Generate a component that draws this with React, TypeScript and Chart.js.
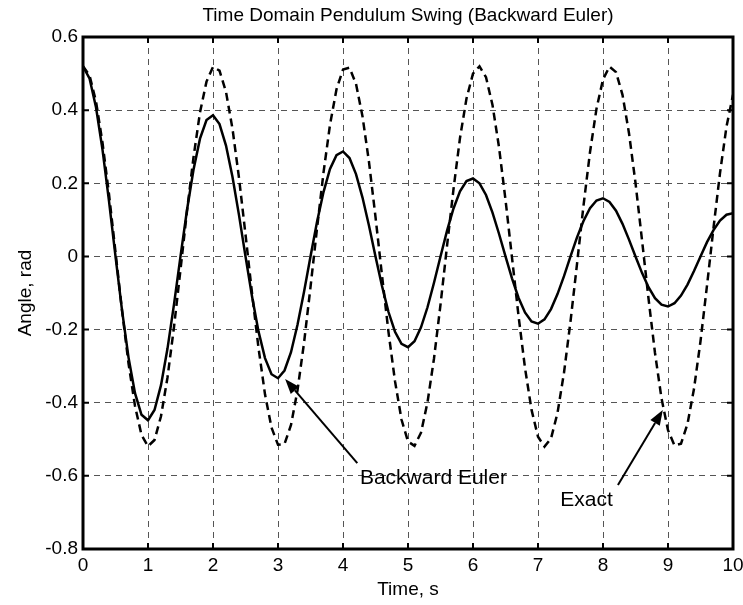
import React, { useEffect, useRef } from "react";
import { Chart, registerables } from "chart.js";

Chart.register(...registerables);

// ---- data ----
const timeS = [
  0, 0.1, 0.2, 0.3, 0.4, 0.5, 0.6, 0.7, 0.8, 0.9,
  1, 1.1, 1.2, 1.3, 1.4, 1.5, 1.6, 1.7, 1.8, 1.9,
  2, 2.1, 2.2, 2.3, 2.4, 2.5, 2.6, 2.7, 2.8, 2.9,
  3, 3.1, 3.2, 3.3, 3.4, 3.5, 3.6, 3.7, 3.8, 3.9,
  4, 4.1, 4.2, 4.3, 4.4, 4.5, 4.6, 4.7, 4.8, 4.9,
  5, 5.1, 5.2, 5.3, 5.4, 5.5, 5.6, 5.7, 5.8, 5.9,
  6, 6.1, 6.2, 6.3, 6.4, 6.5, 6.6, 6.7, 6.8, 6.9,
  7, 7.1, 7.2, 7.3, 7.4, 7.5, 7.6, 7.7, 7.8, 7.9,
  8, 8.1, 8.2, 8.3, 8.4, 8.5, 8.6, 8.7, 8.8, 8.9,
  9, 9.1, 9.2, 9.3, 9.4, 9.5, 9.6, 9.7, 9.8, 9.9,
  10,
];

const exactAngle = [
  0.520, 0.495, 0.424, 0.311, 0.170, 0.012, -0.147, -0.292, -0.409, -0.488,
  -0.519, -0.502, -0.437, -0.331, -0.193, -0.036, 0.124, 0.271, 0.394, 0.478,
  0.518, 0.508, 0.450, 0.349, 0.215, 0.060, -0.100, -0.250, -0.377, -0.468,
  -0.515, -0.513, -0.461, -0.366, -0.237, -0.084, 0.076, 0.229, 0.360, 0.457,
  0.511, 0.516, 0.472, 0.383, 0.258, 0.108, -0.052, -0.207, -0.341, -0.446,
  -0.506, -0.518, -0.482, -0.399, -0.279, -0.132, 0.028, 0.184, 0.324, 0.432,
  0.500, 0.520, 0.490, 0.414, 0.299, 0.155, -0.003, -0.162, -0.305, -0.419,
  -0.493, -0.520, -0.498, -0.428, -0.318, -0.178, -0.021, 0.139, 0.285, 0.404,
  0.484, 0.519, 0.504, 0.442, 0.337, 0.201, 0.045, -0.115, -0.264, -0.388,
  -0.475, -0.517, -0.512, -0.458, -0.362, -0.232, -0.080, 0.078, 0.228, 0.355,
  0.442,
];

const eulerAngle = [
  0.520, 0.487, 0.408, 0.292, 0.151, 0.000, -0.147, -0.276, -0.374, -0.433,
  -0.448, -0.420, -0.352, -0.252, -0.131, 0.000, 0.127, 0.237, 0.322, 0.373,
  0.386, 0.362, 0.303, 0.217, 0.113, 0.000, -0.109, -0.205, -0.278, -0.322,
  -0.333, -0.312, -0.262, -0.187, -0.097, 0.000, 0.094, 0.176, 0.239, 0.277,
  0.287, 0.269, 0.225, 0.161, 0.084, 0.000, -0.081, -0.152, -0.206, -0.239,
  -0.248, -0.232, -0.194, -0.139, -0.072, 0.000, 0.070, 0.131, 0.178, 0.206,
  0.213, 0.200, 0.168, 0.120, 0.062, 0.000, -0.060, -0.113, -0.153, -0.178,
  -0.184, -0.172, -0.144, -0.103, -0.054, 0.000, 0.052, 0.097, 0.132, 0.153,
  0.159, 0.149, 0.125, 0.089, 0.046, 0.000, -0.045, -0.084, -0.114, -0.132,
  -0.137, -0.128, -0.107, -0.077, -0.040, 0.000, 0.039, 0.072, 0.098, 0.114,
  0.118,
];

const xTickValues = [0, 1, 2, 3, 4, 5, 6, 7, 8, 9, 10];
const xTickLabels = ["0", "1", "2", "3", "4", "5", "6", "7", "8", "9", "10"];
const yTickValues = [-0.8, -0.6, -0.4, -0.2, 0, 0.2, 0.4, 0.6];
const yTickLabels = ["-0.8", "-0.6", "-0.4", "-0.2", "0", "0.2", "0.4", "0.6"];

const titleText = "Time Domain Pendulum Swing (Backward Euler)";
const xAxisLabel = "Time, s";
const yAxisLabel = "Angle, rad";

// callouts in data units: text anchor, arrow tail, arrow tip
const calloutLabels = ["Backward Euler", "Exact"];
const calloutTextAt = [[4.26, -0.606], [8.15, -0.666]];
const calloutAlign = ["left", "right"];
const calloutFrom = [[4.22, -0.565], [8.23, -0.625]];
const calloutTo = [[3.11, -0.335], [8.92, -0.42]];

const FONT = "'Liberation Sans', Arial, Helvetica, sans-serif";

const framePlugin = {
  id: "frameAndNotes",
  afterDraw(chart: any) {
    const { ctx, chartArea, scales } = chart;
    const { left, right, top, bottom } = chartArea;
    const x = scales.x;
    const y = scales.y;
    ctx.save();
    ctx.strokeStyle = "#000";
    ctx.fillStyle = "#000";
    ctx.lineCap = "butt";
    ctx.setLineDash([]);
    ctx.lineWidth = 2;
    const tl = 6;
    ctx.beginPath();
    xTickValues.forEach((v) => {
      const px = x.getPixelForValue(v);
      ctx.moveTo(px, bottom);
      ctx.lineTo(px, bottom - tl);
      ctx.moveTo(px, top);
      ctx.lineTo(px, top + tl);
    });
    yTickValues.forEach((v) => {
      const py = y.getPixelForValue(v);
      ctx.moveTo(left, py);
      ctx.lineTo(left + tl, py);
      ctx.moveTo(right, py);
      ctx.lineTo(right - tl, py);
    });
    ctx.stroke();

    ctx.lineWidth = 3;
    ctx.strokeRect(left, top, right - left, bottom - top);

    // title
    ctx.font = `19px ${FONT}`;
    ctx.textAlign = "center";
    ctx.textBaseline = "alphabetic";
    ctx.fillText(titleText, (left + right) / 2, 21);

    // callouts
    ctx.font = `21px ${FONT}`;
    ctx.textBaseline = "middle";
    calloutLabels.forEach((label, i) => {
      const tx = x.getPixelForValue(calloutTextAt[i][0]);
      const ty = y.getPixelForValue(calloutTextAt[i][1]);
      ctx.textAlign = calloutAlign[i] as CanvasTextAlign;
      ctx.fillText(label, tx, ty);

      const fx = x.getPixelForValue(calloutFrom[i][0]);
      const fy = y.getPixelForValue(calloutFrom[i][1]);
      const px = x.getPixelForValue(calloutTo[i][0]);
      const py = y.getPixelForValue(calloutTo[i][1]);
      const ang = Math.atan2(py - fy, px - fx);
      const headLen = 15;
      const headHalf = 5.5;
      const bx = px - headLen * Math.cos(ang);
      const by = py - headLen * Math.sin(ang);
      ctx.lineWidth = 2;
      ctx.beginPath();
      ctx.moveTo(fx, fy);
      ctx.lineTo(bx, by);
      ctx.stroke();
      ctx.beginPath();
      ctx.moveTo(px, py);
      ctx.lineTo(bx + headHalf * Math.sin(ang), by - headHalf * Math.cos(ang));
      ctx.lineTo(bx - headHalf * Math.sin(ang), by + headHalf * Math.cos(ang));
      ctx.closePath();
      ctx.fill();
    });
    ctx.restore();
  },
};

export default function App() {
  const canvasRef = useRef<HTMLCanvasElement | null>(null);

  useEffect(() => {
    if (!canvasRef.current) return;
    Chart.defaults.font.family = FONT;
    Chart.defaults.font.size = 19;
    Chart.defaults.color = "#000";

    const chart = new Chart(canvasRef.current, {
      type: "line",
      data: {
        datasets: [
          {
            label: "Exact",
            data: timeS.map((t, i) => ({ x: t, y: exactAngle[i] })),
            borderColor: "#000",
            borderWidth: 2.5,
            borderDash: [8, 5],
            pointRadius: 0,
            tension: 0,
            fill: false,
          },
          {
            label: "Backward Euler",
            data: timeS.map((t, i) => ({ x: t, y: eulerAngle[i] })),
            borderColor: "#000",
            borderWidth: 2.5,
            pointRadius: 0,
            tension: 0,
            fill: false,
          },
        ],
      },
      options: {
        animation: false,
        responsive: false,
        events: [],
        layout: { padding: { top: 37, right: 10, left: 0, bottom: 0 } },
        plugins: {
          legend: { display: false },
          tooltip: { enabled: false },
          title: { display: false },
        },
        scales: {
          x: {
            type: "linear",
            min: 0,
            max: 10,
            afterBuildTicks: (scale: any) => {
              scale.ticks = xTickValues.map((v) => ({ value: v }));
            },
            afterFit: (scale: any) => {
              scale.height = 56;
              scale.paddingLeft = 0;
              scale.paddingRight = 0;
            },
            ticks: {
              padding: 5.6,
              maxRotation: 0,
              autoSkip: false,
              color: "#000",
              font: { size: 19 },
              callback: (_v: any, i: number) => xTickLabels[i],
            },
            grid: { color: "#555", lineWidth: 1, drawTicks: false, tickLength: 0 },
            border: { display: false, dash: [6, 5] },
            title: {
              display: true,
              text: xAxisLabel,
              color: "#000",
              font: { size: 19 },
              padding: { top: 0, bottom: 3.6 },
            },
          },
          y: {
            type: "linear",
            min: -0.8,
            max: 0.6,
            afterBuildTicks: (scale: any) => {
              scale.ticks = yTickValues.map((v) => ({ value: v }));
            },
            afterFit: (scale: any) => {
              scale.width = 83;
            },
            ticks: {
              padding: 5,
              autoSkip: false,
              color: "#000",
              font: { size: 19 },
              callback: (_v: any, i: number) => yTickLabels[i],
            },
            grid: { color: "#555", lineWidth: 1, drawTicks: false, tickLength: 0 },
            border: { display: false, dash: [6, 5] },
            title: {
              display: true,
              text: yAxisLabel,
              color: "#000",
              font: { size: 19 },
              padding: { top: 14.6, bottom: 0 },
            },
          },
        },
      },
      plugins: [framePlugin],
    });
    return () => chart.destroy();
  }, []);

  return (
    <div style={{ position: "fixed", left: 0, top: 0, width: 743, height: 605, background: "#fff" }}>
      <canvas ref={canvasRef} width={743} height={605} style={{ display: "block" }} />
    </div>
  );
}
